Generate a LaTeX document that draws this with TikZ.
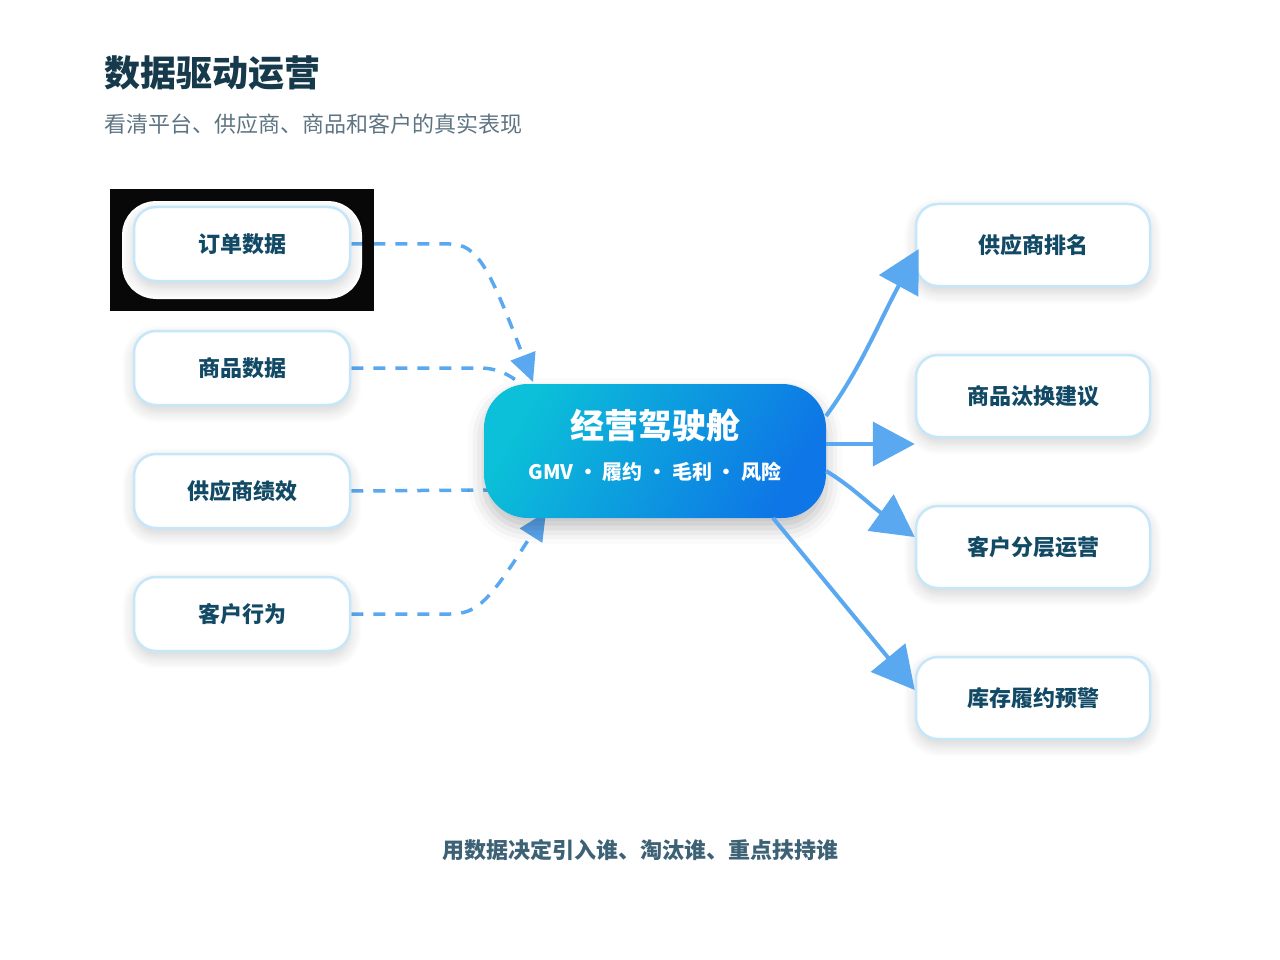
\documentclass[tikz,border=0pt]{standalone}
\usepackage{fontspec}
\setmainfont{Noto Sans CJK SC}
\usetikzlibrary{arrows.meta,shadows.blur,positioning}
\definecolor{pagebg}{HTML}{F3F8FD}
\definecolor{cardbg}{HTML}{EAF4FD}
\definecolor{titlec}{HTML}{163A4C}
\definecolor{subc}{HTML}{5E7482}
\definecolor{boxtxt}{HTML}{124A66}
\definecolor{boxln}{HTML}{C6E6FA}
\definecolor{arr}{HTML}{5AA8F0}
\definecolor{cA}{HTML}{0BC0D8}
\definecolor{cB}{HTML}{0E76E6}
\definecolor{bott}{HTML}{3D6175}
\pgfdeclarelayer{bgl}\pgfdeclarelayer{conn}
\pgfsetlayers{bgl,conn,main}
\tikzset{
 box/.style={draw=boxln,line width=2.5pt,fill=white,rounded corners=22pt,minimum width=216pt,minimum height=74pt,font=\bfseries\fontsize{22}{26}\selectfont,text=boxtxt,blur shadow={shadow xshift=0pt,shadow yshift=-6pt,shadow blur radius=12pt,shadow opacity=18,shadow blur steps=12}},
 rbox/.style={box,minimum width=234pt,minimum height=82pt},
 dsh/.style={draw=arr,line width=3.5pt,dash pattern=on 12pt off 10pt,-{Triangle[length=28pt,width=26pt]}},
 dshn/.style={draw=arr,line width=3.5pt,dash pattern=on 12pt off 10pt},
 sol/.style={draw=arr,line width=4pt,-{Triangle[length=42pt,width=44pt]}},
}
\begin{document}
\begin{tikzpicture}[x=1pt,y=-1pt]
\useasboundingbox (0,0) rectangle (1280,960);
\begin{pgfonlayer}{bgl}
\fill[pagebg] (0,0) rectangle (1280,960);
\shade[rounded corners=40pt,top color=cardbg!50!white,bottom color=cardbg] (22,-40) rectangle (1257,958);
\end{pgfonlayer}
\node[anchor=west,text=titlec,font=\bfseries\fontsize{36}{40}\selectfont] (title) at (101,73) {数据驱动运营};
\node[anchor=west,text=subc,font=\fontsize{22}{26}\selectfont] (sub) at (101,124) {看清平台、供应商、商品和客户的真实表现};
\node[box] (l1) at (242,244) {订单数据};
\node[box] (l2) at (242,368) {商品数据};
\node[box] (l3) at (242,491) {供应商绩效};
\node[box] (l4) at (242,614) {客户行为};
\node[rbox] (r1) at (1033,245) {供应商排名};
\node[rbox] (r2) at (1033,396) {商品汰换建议};
\node[rbox] (r3) at (1033,547) {客户分层运营};
\node[rbox] (r4) at (1033,698) {库存履约预警};
\node[minimum width=342pt,minimum height=134pt,rounded corners=44pt,left color=cA,right color=cB,shading angle=60,
  blur shadow={shadow xshift=0pt,shadow yshift=-10pt,shadow blur radius=16pt,shadow opacity=25}] (c) at (655,451) {};
\node[text=white,font=\bfseries\fontsize{34}{38}\selectfont] (ct) at (655,426) {经营驾驶舱};
\node[text=white,font=\bfseries\fontsize{20}{24}\selectfont] (cs) at (655,472) {GMV · 履约 · 毛利 · 风险};
\node[text=bott,font=\bfseries\fontsize{22}{26}\selectfont] (bt) at (640,850) {用数据决定引入谁、淘汰谁、重点扶持谁};
\coordinate (e1) at (533,382);
\coordinate (e2) at (525,388);
\coordinate (e3) at (490,490);
\coordinate (e4) at (546,512);
\coordinate (s1) at (826,416);
\coordinate (s2) at (826,444);
\coordinate (s3) at (826,471);
\coordinate (s4) at (773,518);
\begin{pgfonlayer}{conn}
\draw[dsh] (l1.east) -- (450,244) .. controls (478,244) and (490,270) .. (e1);
\draw[dshn] (l2.east) -- (480,368) .. controls (500,368) and (515,378) .. (e2);
\draw[dshn] (l3.east) -- (e3);
\draw[dsh] (l4.east) -- (450,614) .. controls (478,614) and (490,600) .. (e4);
\end{pgfonlayer}
\draw[sol] (s1) .. controls (860,370) and (880,320) .. ([xshift=4pt,yshift=-4pt]r1.west);
\draw[sol] (s2) -- (s2-|r2.west);
\draw[sol] (s3) .. controls (850,485) and (870,505) .. ([yshift=10pt]r3.west);
\draw[sol] (s4) -- ([yshift=8pt]r4.west);
\end{tikzpicture}
\end{document}
